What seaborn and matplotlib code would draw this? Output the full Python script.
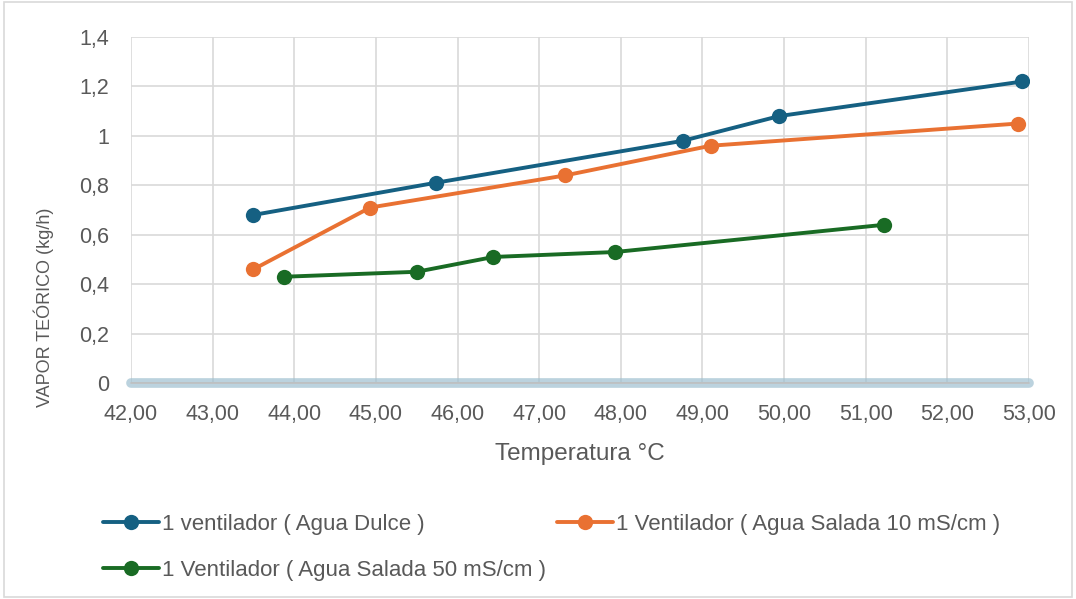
import matplotlib
matplotlib.use("Agg")
import matplotlib.pyplot as plt
import seaborn as sns
import pandas as pd
from matplotlib.ticker import FuncFormatter, MultipleLocator

# Data
dulce_x = [43.50, 45.73, 48.76, 49.94, 52.92]
dulce_y = [0.68, 0.81, 0.98, 1.08, 1.22]
sal10_x = [43.50, 44.93, 47.32, 49.10, 52.87]
sal10_y = [0.46, 0.71, 0.84, 0.96, 1.05]
sal50_x = [43.88, 45.50, 46.44, 47.93, 51.22]
sal50_y = [0.43, 0.45, 0.51, 0.53, 0.64]
labels = ["1 ventilador ( Agua Dulce )",
          "1 Ventilador ( Agua Salada 10 mS/cm )",
          "1 Ventilador ( Agua Salada 50 mS/cm )"]
colors = ["#156082", "#E97132", "#196B24"]

sns.set_theme(style="white")
plt.rcParams['font.family'] = ['Liberation Sans', 'DejaVu Sans']

fig = plt.figure(figsize=(10.76, 5.99), dpi=100)
ax = fig.add_axes([131/1076, 1-383/599, (1029-131)/1076, (383-37)/599])

series = [(dulce_x, dulce_y), (sal10_x, sal10_y), (sal50_x, sal50_y)]
for (xs, ys), lab, c in zip(series, labels, colors):
    df = pd.DataFrame({"x": xs, "y": ys})
    sns.lineplot(data=df, x="x", y="y", ax=ax, color=c, marker="o", markersize=11,
                 markeredgewidth=0, linewidth=2.8, label=lab, sort=False, zorder=3)

ax.set_xlim(42, 53)
ax.set_ylim(0, 1.4)
ax.xaxis.set_major_locator(MultipleLocator(1))
ax.yaxis.set_major_locator(MultipleLocator(0.2))
ax.xaxis.set_major_formatter(FuncFormatter(lambda v, p: f"{v:.2f}".replace(".", ",")))
def yfmt(v, p):
    s = f"{v:.1f}".rstrip("0").rstrip(".")
    return s.replace(".", ",")
ax.yaxis.set_major_formatter(FuncFormatter(yfmt))
ax.grid(True, color="#d9d9d9", linewidth=1.2)
for s in ax.spines.values():
    s.set_visible(False)
ax.tick_params(axis="both", length=0, labelsize=15.5, colors="#595959")
ax.tick_params(axis="x", pad=15)
ax.tick_params(axis="y", pad=16)

# zero line with glow
ax.axhline(0, color="#9fc0d0", linewidth=7, alpha=0.7, zorder=2, clip_on=False)
ax.axhline(0, color="#bfbfbf", linewidth=1.2, zorder=2.5, clip_on=False)

ax.set_xlabel("Temperatura °C", fontsize=17.5, color="#595959", labelpad=13)
ax.set_ylabel("VAPOR TEÓRICO (kg/h)", fontsize=13, color="#595959")
ax.yaxis.set_label_coords(-(131-54)/898, (383-307)/346)

leg = ax.get_legend()
handles, labs = ax.get_legend_handles_labels()
leg.remove()
order = [0, 2, 1]
fig.legend([handles[i] for i in order], [labs[i] for i in order],
           loc="upper left", bbox_to_anchor=(92/1076, 1-503/599), ncol=2,
           frameon=False, fontsize=16, columnspacing=0.5, handlelength=2.5,
           handletextpad=0.15, labelspacing=1.1, labelcolor="#595959",
           borderpad=0.0)

fig.patches.append(plt.Rectangle((0.004, 0.004), 0.992, 0.992, transform=fig.transFigure,
                                 fill=False, edgecolor="#d9d9d9", linewidth=1.2))
fig.savefig("out.png", dpi=100)
